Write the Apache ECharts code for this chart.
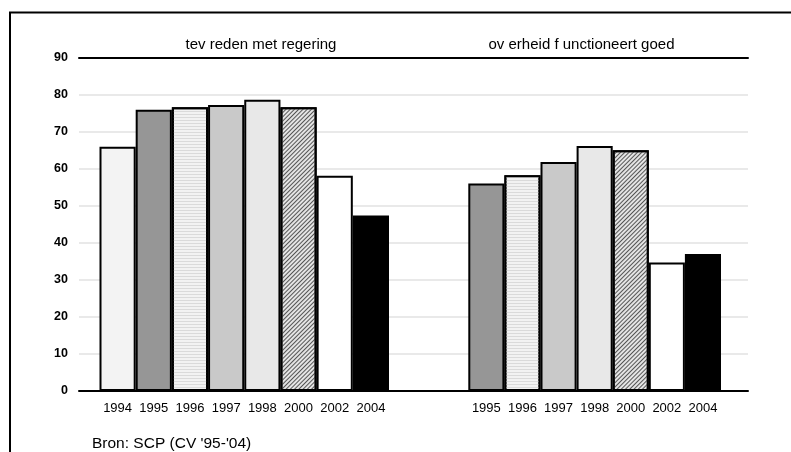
<!DOCTYPE html>
<html>
<head>
<meta charset="utf-8">
<script src="https://cdn.jsdelivr.net/npm/echarts@6/dist/echarts.min.js"></script>
<style>
html,body{margin:0;padding:0;background:#fff;}
#chart{width:791px;height:452px;}
</style>
</head>
<body>
<div id="chart"></div>
<script>
// ---- data ----
const titleLeft = 'tev reden met regering';
const titleRight = 'ov erheid f unctioneert goed';
const yearsLeft = ['1994','1995','1996','1997','1998','2000','2002','2004'];
const valuesLeft = [66, 76, 76.7, 77.3, 78.7, 76.7, 58.2, 47.4];
const yearsRight = ['1995','1996','1997','1998','2000','2002','2004'];
const valuesRight = [56.1, 58.3, 61.9, 66.2, 65.1, 34.7, 37.0];
const yTicks = [0,10,20,30,40,50,60,70,80,90];
const source = "Bron: SCP (CV '95-'04)";

// ---- styles ----
const yearColors = {
  '1994':'#f3f3f3','1995':'#969696','1996':'#f2f2f2','1997':'#c9c9c9',
  '1998':'#e8e8e8','2000':'#e4e4e4','2002':'#ffffff','2004':'#000000'
};
const yearDecals = {
  '1996': {symbol:'rect', symbolSize:1, dashArrayX:[[1,0]], dashArrayY:[1,2], color:'#dadada'},
  '2000': {symbol:'rect', symbolSize:1, dashArrayX:[[1,0]], dashArrayY:[1,2], rotation:-Math.PI/4, color:'#555555'}
};

function items(years, vals){
  return vals.map((v,i)=>{
    const st = {color:yearColors[years[i]]};
    if (yearDecals[years[i]]) st.decal = yearDecals[years[i]];
    return {value:v, itemStyle:st};
  });
}

const gTop = 58, gBottom = 61;
const yBase = {min:yTicks[0], max:yTicks[yTicks.length-1], interval:10};
const FONT = 'Liberation Sans, Arial, sans-serif';

const chart = echarts.init(document.getElementById('chart'), null, {renderer:'canvas'});
chart.setOption({
  animation:false,
  backgroundColor:'#fff',
  grid:[
    {left:79, right:43, top:gTop, bottom:gBottom},
    {left:99.5, width:289.5, top:gTop, bottom:gBottom},
    {left:468.3, width:252.7, top:gTop, bottom:gBottom}
  ],
  xAxis:[
    {gridIndex:0, type:'value', min:0, max:1, axisLabel:{show:false}, axisTick:{show:false}, splitLine:{show:false},
     axisLine:{show:true, onZero:false, lineStyle:{color:'#000', width:2}}},
    {gridIndex:0, type:'value', position:'top', min:0, max:1, axisLabel:{show:false}, axisTick:{show:false}, splitLine:{show:false},
     axisLine:{show:true, onZero:false, lineStyle:{color:'#000', width:2}}},
    {gridIndex:1, type:'category', data:yearsLeft, axisLine:{show:false}, axisTick:{show:false},
     axisLabel:{color:'#000', fontSize:13, fontFamily:FONT, margin:11, interval:0}},
    {gridIndex:2, type:'category', data:yearsRight, axisLine:{show:false}, axisTick:{show:false},
     axisLabel:{color:'#000', fontSize:13, fontFamily:FONT, margin:11, interval:0}}
  ],
  yAxis:[
    Object.assign({gridIndex:0, type:'value',
      axisLine:{show:false}, axisTick:{show:false},
      axisLabel:{color:'#000', fontSize:12.5, fontWeight:'bold', fontFamily:FONT, margin:11},
      splitLine:{show:true, lineStyle:{color:'#e9e9e9', width:2}}}, yBase),
    Object.assign({gridIndex:1, type:'value', show:false, splitLine:{show:false}}, yBase),
    Object.assign({gridIndex:2, type:'value', show:false, splitLine:{show:false}}, yBase)
  ],
  series:[
    {type:'bar', xAxisIndex:2, yAxisIndex:1, data:items(yearsLeft, valuesLeft), barCategoryGap:'0%',
     itemStyle:{borderColor:'#000', borderWidth:2}},
    {type:'bar', xAxisIndex:3, yAxisIndex:2, data:items(yearsRight, valuesRight), barCategoryGap:'0%',
     itemStyle:{borderColor:'#000', borderWidth:2}}
  ],
  graphic:[
    {type:'rect', silent:true, shape:{x:10, y:12.5, width:900, height:600},
     style:{fill:null, stroke:'#000', lineWidth:2}},
    {type:'text', x:261, y:45, style:{text:titleLeft, textAlign:'center', textVerticalAlign:'middle',
      font:'15px "Liberation Sans", Arial, sans-serif', fill:'#000'}},
    {type:'text', x:581.5, y:45, style:{text:titleRight, textAlign:'center', textVerticalAlign:'middle',
      font:'15px "Liberation Sans", Arial, sans-serif', fill:'#000'}},
    {type:'text', x:92, y:443.5, style:{text:source, textAlign:'left', textVerticalAlign:'middle',
      font:'15.5px "Liberation Sans", Arial, sans-serif', fill:'#000'}}
  ]
});
</script>
</body>
</html>
